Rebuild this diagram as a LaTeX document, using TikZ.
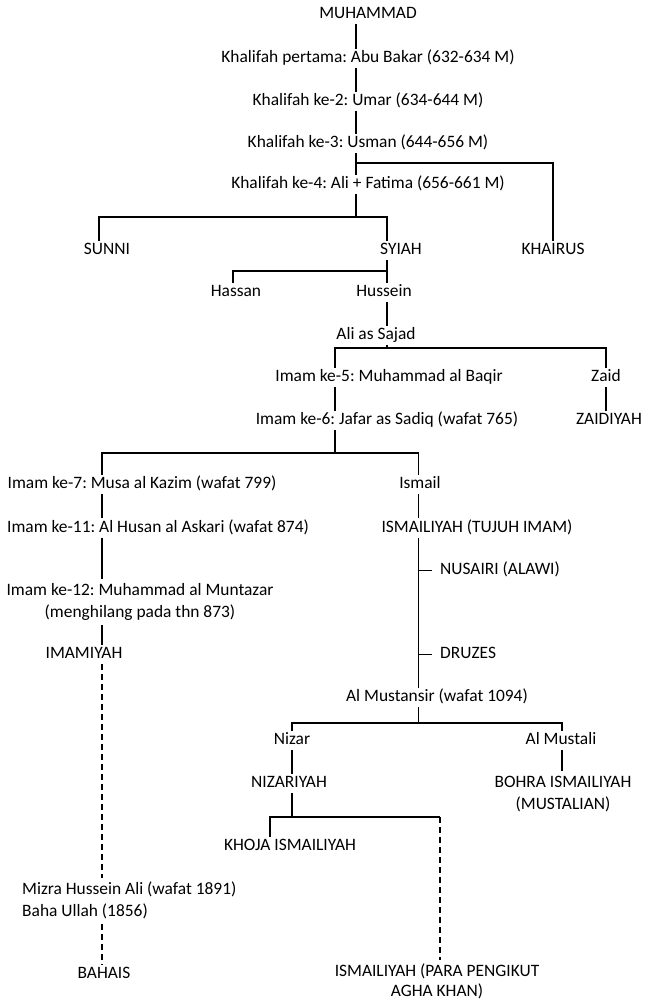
\documentclass[tikz,border=0pt]{standalone}
\usepackage{fontspec}
\setmainfont{Carlito}
\begin{document}
\frenchspacing
\begin{tikzpicture}[x=1pt,y=-1pt,
  lbl/.style={font=\fontsize{17.4}{21.5}\selectfont, inner sep=1.5pt, text height=12pt, text depth=4pt, anchor=base},
  mlbl/.style={font=\fontsize{17.4}{21.5}\selectfont, inner sep=1.5pt, anchor=north},
  conn/.style={line width=1.5pt},
  dconn/.style={line width=1.5pt, dash pattern=on 6pt off 4pt}]
\fill[white] (0,0) rectangle (646,1002);
\useasboundingbox (0,0) rectangle (646,1002);
% columns
\coordinate (T) at (356,0);
\coordinate (KH) at (553,0);
\coordinate (SU) at (99,0);
\coordinate (SY) at (387,0);
\coordinate (HA) at (233,0);
\coordinate (BQ) at (335,0);
\coordinate (ZA) at (606,0);
\coordinate (LM) at (102,0);
\coordinate (IS) at (418.5,0);
\coordinate (NZ) at (292,0);
\coordinate (ML) at (562,0);
\coordinate (KJ) at (270,0);
\coordinate (AK) at (440,0);
% junction rows
\coordinate (H1) at (0,163);
\coordinate (H2) at (0,217);
\coordinate (H3) at (0,271);
\coordinate (H4) at (0,348);
\coordinate (H5) at (0,453);
\coordinate (H6) at (0,723);
\coordinate (H7) at (0,817);
% nodes
\node[lbl] (muh) at (368,18.5) {MUHAMMAD};
\node[lbl] (k1) at (368,62.5) {Khalifah pertama: Abu Bakar (632-634 M)};
\node[lbl] (k2) at (368,105.5) {Khalifah ke-2: Umar (634-644 M)};
\node[lbl] (k3) at (368,147.5) {Khalifah ke-3: Usman (644-656 M)};
\node[lbl] (k4) at (368,188.5) {Khalifah ke-4: Ali + Fatima (656-661 M)};
\node[lbl] (sunni) at (107,254.5) {SUNNI};
\node[lbl] (syiah) at (401,254.5) {SYIAH};
\node[lbl] (khairus) at (553,254.5) {KHAIRUS};
\node[lbl] (hassan) at (236,296.5) {Hassan};
\node[lbl] (hussein) at (384,296.5) {Hussein};
\node[lbl] (ali) at (376,339.5) {Ali as Sajad};
\node[lbl] (baqir) at (389,381.5) {Imam ke-5: Muhammad al Baqir};
\node[lbl] (zaid) at (606,381.5) {Zaid};
\node[lbl] (jafar) at (387,424.5) {Imam ke-6: Jafar as Sadiq (wafat 765)};
\node[lbl] (zaidiyah) at (609,424.5) {ZAIDIYAH};
\node[lbl] (musa) at (142,488.5) {Imam ke-7: Musa al Kazim (wafat 799)};
\node[lbl] (askari) at (158,532) {Imam ke-11: Al Husan al Askari (wafat 874)};
\node[mlbl, align=center] (muntazar) at (140,579) {Imam ke-12: Muhammad al Muntazar\strut\\(menghilang pada thn 873)\strut};
\node[lbl] (imamiyah) at (84,658.5) {IMAMIYAH};
\node[mlbl, anchor=north west, align=left] (mizra) at (20.5,878) {Mizra Hussein Ali (wafat 1891)\strut\\Baha Ullah (1856)\strut};
\node[lbl] (bahais) at (104,978.5) {BAHAIS};
\node[lbl] (ismail) at (420,488.5) {Ismail};
\node[lbl] (tujuh) at (477,532) {ISMAILIYAH (TUJUH IMAM)};
\node[lbl, anchor=base west, inner xsep=8pt] (nusairi) at (432,574.5) {NUSAIRI (ALAWI)};
\node[lbl, anchor=base west, inner xsep=8pt] (druzes) at (432,658.5) {DRUZES};
\node[lbl] (mustansir) at (437,701.5) {Al Mustansir (wafat 1094)};
\node[lbl] (nizar) at (292,744.5) {Nizar};
\node[lbl] (mustali) at (561,744.5) {Al Mustali};
\node[lbl] (nizariyah) at (289,787.5) {NIZARIYAH};
\node[mlbl, align=center] (bohra) at (563,771) {BOHRA ISMAILIYAH\strut\\(MUSTALIAN)\strut};
\node[lbl] (khoja) at (290,850.5) {KHOJA ISMAILIYAH};
\node[mlbl, align=center, font=\fontsize{17.4}{20.5}\selectfont] (agha) at (437,960) {ISMAILIYAH (PARA PENGIKUT\strut\\AGHA KHAN)\strut};
% connectors: caliphs
\draw[conn] (muh.south -| T) -- (k1.north -| T);
\draw[conn] (k1.south -| T) -- (k2.north -| T);
\draw[conn] (k2.south -| T) -- (k3.north -| T);
\draw[conn] (k3.south -| T) -- (k4.north -| T);
\draw[conn] (T |- H1) -- (KH |- H1) -- (khairus.north -| KH);
\draw[conn] (k4.south -| T) -- (T |- H2);
\draw[conn] (sunni.north -| SU) -- (SU |- H2) -- (SY |- H2) -- (syiah.north -| SY);
% syiah
\draw[conn] (syiah.south -| SY) -- (hussein.north -| SY);
\draw[conn] (hassan.north -| HA) -- (HA |- H3) -- (SY |- H3);
\draw[conn] (hussein.south -| SY) -- (ali.north -| SY);
\draw[conn] (ali.south -| SY) -- (SY |- H4);
\draw[conn] (baqir.north -| BQ) -- (BQ |- H4) -- (ZA |- H4) -- (zaid.north -| ZA);
\draw[conn] (baqir.south -| BQ) -- (jafar.north -| BQ);
\draw[conn] (zaid.south -| ZA) -- (zaidiyah.north -| ZA);
\draw[conn] (jafar.south -| BQ) -- (BQ |- H5);
\draw[conn] (musa.north -| LM) -- (LM |- H5) -- (IS |- H5) -- (ismail.north -| IS);
% twelvers
\draw[conn] (musa.south -| LM) -- (askari.north -| LM);
\draw[conn] (askari.south -| LM) -- (muntazar.north -| LM);
\draw[conn] (muntazar.south -| LM) -- (imamiyah.north -| LM);
\draw[dconn] (imamiyah.south -| LM) -- (mizra.north -| LM);
\draw[dconn] (mizra.south -| LM) -- (bahais.north -| LM);
% ismailis
\draw[conn] (ismail.south -| IS) -- (tujuh.north -| IS);
\draw[conn] (tujuh.south -| IS) -- (mustansir.north -| IS);
\draw[conn] (nusairi.west -| IS) -- (nusairi.west);
\draw[conn] (druzes.west -| IS) -- (druzes.west);
\draw[conn] (mustansir.south -| IS) -- (IS |- H6);
\draw[conn] (nizar.north -| NZ) -- (NZ |- H6) -- (ML |- H6) -- (mustali.north -| ML);
\draw[conn] (nizar.south -| NZ) -- (nizariyah.north -| NZ);
\draw[conn] (mustali.south -| ML) -- (bohra.north -| ML);
\draw[conn] (nizariyah.south -| NZ) -- (NZ |- H7);
\draw[conn] (khoja.north -| KJ) -- (KJ |- H7) -- (AK |- H7);
\draw[dconn] (AK |- H7) -- (agha.north -| AK);
\end{tikzpicture}
\end{document}
